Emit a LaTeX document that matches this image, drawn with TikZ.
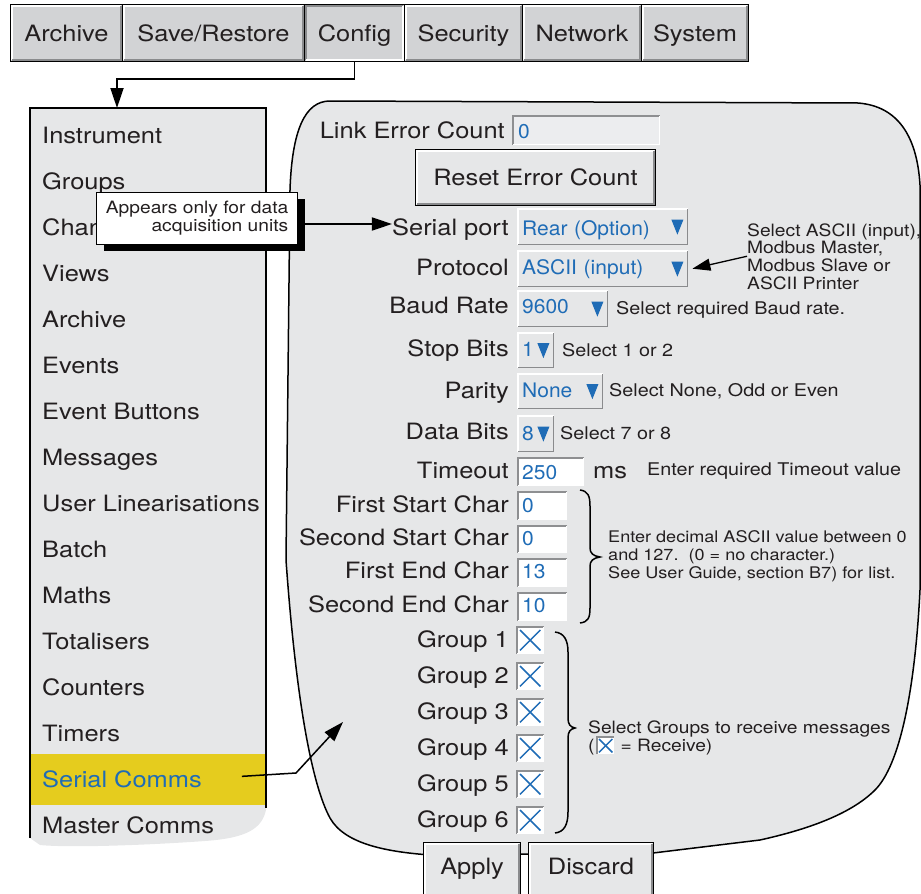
\documentclass[tikz,border=0pt]{standalone}
\usepackage{fontspec}
\setmainfont{TeX Gyre Heros}[FakeStretch=1.13]
\newfontfamily\valfont{TeX Gyre Heros}[FakeStretch=1.05]
\usetikzlibrary{arrows.meta,calc,shadows}

\definecolor{panel}{HTML}{E6E7E8}
\definecolor{tabfill}{HTML}{D2D3D5}
\definecolor{ink}{HTML}{231F20}
\definecolor{blu}{HTML}{1F6CB6}
\definecolor{hilite}{HTML}{E5CC1E}
\definecolor{dkedge}{HTML}{8A8B8D}
\definecolor{insetgray}{HTML}{8E8F91}
\definecolor{fieldfill}{HTML}{ECEDEF}

% 3D edge of a button: #1 node, #2 top/left colour, #3 bottom/right colour
\newcommand\uibevel[3]{%
  \draw[#2, line width=2pt] ($(#1.south west)+(2,-2)$) -- ($(#1.north west)+(2,2)$) -- ($(#1.north east)+(-2,2)$);
  \draw[#3, line width=2pt] ($(#1.north east)+(-2,2)$) -- ($(#1.south east)+(-2,-2)$) -- ($(#1.south west)+(2,-2)$);}
% thin edge of a field or drop-down box
\newcommand\uiedge[3]{%
  \draw[#2, line width=1.5pt] ($(#1.south west)+(0.75,-0.75)$) -- ($(#1.north west)+(0.75,0.75)$) -- ($(#1.north east)+(-0.75,0.75)$);
  \draw[#3, line width=1.5pt] ($(#1.north east)+(-0.75,0.75)$) -- ($(#1.south east)+(-0.75,-0.75)$) -- ($(#1.south west)+(0.75,-0.75)$);}
% drop-down marker at the right of a box
\newcommand\droparrow[1]{%
  \fill[blu] ($(#1.east)+(-17,-7)$) -- ++(12,0) -- ++(-6,15) -- cycle;}
% ticked check box
\newcommand\tickx[2]{%
  \draw[blu, line width=1.5pt] ($(#1.north west)+(#2,#2)$) -- ($(#1.south east)+(-#2,-#2)$);
  \draw[blu, line width=1.5pt] ($(#1.north east)+(-#2,#2)$) -- ($(#1.south west)+(#2,-#2)$);}

\tikzset{
  every node/.style={text=ink, inner sep=0pt},
  ui/.style={font=\fontsize{22.5}{27}\selectfont},
  lbl/.style={ui, anchor=base east},
  item/.style={ui, anchor=base west},
  note/.style={font=\fontsize{17.5}{17.8}\selectfont, anchor=base west},
  notebox/.style={anchor=north west, align=left},
  val/.style={font=\valfont\fontsize{20}{24}\selectfont, text=blu},
  tabbtn/.style={ui, draw=black, line width=1pt, fill=tabfill, anchor=north west,
    text height=37pt, text depth=20pt},
  pushbtn/.style={ui, draw=black, line width=1pt, fill=panel, anchor=north west},
  dropbox/.style={val, fill=panel, anchor=north west, inner xsep=5pt, align=left},
  entry/.style={val, fill=white, anchor=north west, inner xsep=5pt, align=left},
  cbox/.style={fill=white, anchor=north west, minimum width=28pt, minimum height=28pt},
  arr/.style={line width=1.8pt, -{Triangle[length=20pt,width=13pt]}},
}

\begin{document}
\begin{tikzpicture}[x=1pt, y=-1pt]
\useasboundingbox (0,0) rectangle (921,894);
\clip (0,0) rectangle (921,894);

% ---------- tab bar ----------
\node[tabbtn, minimum width=112pt] (tArchive) at (10,4) {Archive};
\node[tabbtn, minimum width=182pt] (tSave) at (122,4) {Save/Restore};
\node[tabbtn, minimum width=100pt] (cfg) at (304,4) {Config};
\node[tabbtn, minimum width=118pt] (tSec) at (404,4) {Security};
\node[tabbtn, minimum width=119pt] (tNet) at (522,4) {Network};
\node[tabbtn, minimum width=107pt] (tSys) at (641,4) {System};
\uibevel{tArchive}{white}{dkedge}
\uibevel{tSave}{white}{dkedge}
\uibevel{cfg}{dkedge}{white}
\uibevel{tSec}{white}{dkedge}
\uibevel{tNet}{white}{dkedge}
\uibevel{tSys}{white}{dkedge}

% ---------- configuration menu ----------
\fill[panel] (30,108) -- (266,108) -- (266,810) .. controls (262,828) and (248,838) .. (205,841)
  .. controls (150,845) and (70,848) .. (40,845) -- (30,838) -- cycle;
\fill[hilite] (30,754) rectangle (266,805);
\draw[line width=1.5pt] (30,838) -- (30,108) -- (266,108) -- (266,808);
\coordinate (menutop) at (117,108);

\node[item] (mInstr) at (42,143) {Instrument};
\node[item] (mGroups) at (42,189) {Groups};
\node[item] (mChan) at (42,235) {Channels};
\node[item] (mViews) at (42,281) {Views};
\node[item] (mArch) at (42,327) {Archive};
\node[item] (mEvents) at (42,373) {Events};
\node[item] (mEvBtn) at (42,419) {Event Buttons};
\node[item] (mMsg) at (42,465) {Messages};
\node[item] (mULin) at (42,511) {User Linearisations};
\node[item] (mBatch) at (42,557) {Batch};
\node[item] (mMaths) at (42,603) {Maths};
\node[item] (mTot) at (42,649) {Totalisers};
\node[item] (mCount) at (42,695) {Counters};
\node[item] (mTimers) at (42,741) {Timers};
\node[item, text=blu] (mSerial) at (42,787) {Serial Comms};
\node[item] (mMaster) at (42,833) {Master Comms};

% ---------- serial comms panel ----------
\filldraw[fill=panel, draw=black, line width=1.5pt]
  (330,101) -- (858,103) .. controls (897,106) and (917,135) .. (920,185) -- (920,590)
  .. controls (915,690) and (900,765) .. (875,790) .. controls (850,815) and (805,830) .. (760,840)
  -- (653,853) -- (430,855) .. controls (390,852) and (345,845) .. (330,818)
  .. controls (312,785) and (296,700) .. (286,560) -- (290,190)
  .. controls (292,130) and (305,101) .. (330,101) -- cycle;

% link error count
\node[lbl] (lLink) at (505,138) {Link Error Count};
\node[val, fill=fieldfill, anchor=north west, inner xsep=6pt, align=left, text width=136pt,
  text height=23pt, text depth=7pt] (fLink) at (512,115) {0};
\uiedge{fLink}{insetgray}{white}
\node[pushbtn, minimum width=240pt, text height=36pt, text depth=20pt] (bReset) at (415,149) {Reset Error Count};
\uibevel{bReset}{white}{dkedge}

% drop-down settings
\node[lbl] (lsp) at (509,235) {Serial port};
\node[dropbox, text width=161pt, text height=27pt, text depth=10pt] (ddsp) at (517,208) {Rear (Option)};
\node[lbl] (lpr) at (509,275) {Protocol};
\node[dropbox, text width=161pt, text height=24.5pt, text depth=12.5pt] (ddpr) at (517,250) {ASCII (input)};
\node[lbl] (lbr) at (509,313) {Baud Rate};
\node[dropbox, text width=81pt, text height=23pt, text depth=14pt] (ddbr) at (517,290) {9600};
\node[lbl] (lsb) at (509,356) {Stop Bits};
\node[dropbox, text width=27pt, text height=24pt, text depth=12pt] (ddsb) at (517,332) {1};
\node[lbl] (lpa) at (509,398) {Parity};
\node[dropbox, text width=76pt, text height=24pt, text depth=12pt] (ddpa) at (517,373) {None};
\node[lbl] (ldb) at (509,439) {Data Bits};
\node[dropbox, text width=27pt, text height=25pt, text depth=12pt] (dddb) at (517,415) {8};
\foreach \b in {ddsp,ddpr,ddbr,ddsb,ddpa,dddb}{\uiedge{\b}{white}{dkedge}\droparrow{\b}}

% entry fields
\node[lbl] (lto) at (509,478) {Timeout};
\node[entry, text width=57pt, text height=22pt, text depth=7pt] (fto) at (517,457) {250};
\node[ui, anchor=base west] (ms) at (593,478) {ms};
\node[lbl] (lfs) at (509,512) {First Start Char};
\node[entry, text width=40pt, text height=21pt, text depth=8pt] (ffs) at (517,491) {0};
\node[lbl] (lss) at (509,545) {Second Start Char};
\node[entry, text width=40pt, text height=20pt, text depth=8pt] (fss) at (517,525) {0};
\node[lbl] (lfe) at (509,578) {First End Char};
\node[entry, text width=40pt, text height=20pt, text depth=9pt] (ffe) at (517,558) {13};
\node[lbl] (lse) at (509,612) {Second End Char};
\node[entry, text width=40pt, text height=20pt, text depth=9pt] (fse) at (517,592) {10};
\foreach \b in {fto,ffs,fss,ffe,fse}{\uiedge{\b}{insetgray}{white}}

% group check boxes
\foreach \i in {1,...,6}{
  \node[lbl] (lg\i) at (509,{611+36*\i}) {Group \i};
  \node[cbox] (cb\i) at (516,{590+36*\i}) {};
  \uiedge{cb\i}{insetgray}{white}
  \tickx{cb\i}{4}
}

% notes
\node[notebox, font=\fontsize{17}{17.6}\selectfont] (nascii) at (747,223) {\rule{0pt}{13pt}Select ASCII (input),\\Modbus Master,\\Modbus Slave or\\ASCII Printer};
\node[note] (nbaud) at (616,314) {Select required Baud rate.};
\node[note] (nstop) at (562,356) {Select 1 or 2};
\node[note] (npar) at (609,396) {Select None, Odd or Even};
\node[note] (ndata) at (560,439) {Select 7 or 8};
\node[note] (ntime) at (647,475) {Enter required Timeout value};
\node[notebox, font=\fontsize{16}{17.8}\selectfont] (nchar) at (608,529.5) {\rule{0pt}{13pt}Enter decimal ASCII value between 0\\and 127.\ \ (0 = no character.)\\See User Guide, section B7) for list.};
\node[notebox, font=\fontsize{17}{18.5}\selectfont] (ngrp) at (588,720) {\rule{0pt}{13pt}Select Groups to receive messages\\(\hspace{26pt}= Receive)};
\node[cbox, minimum width=17pt, minimum height=17pt] (cbicon) at (597,737) {};
\draw[insetgray, line width=1.2pt] (cbicon.south west) -- (cbicon.north west) -- (cbicon.north east);
\tickx{cbicon}{2}

% braces
\draw[line width=1.5pt] (580,490) .. controls (588,491) and (590,496) .. (590,506) -- (590,548)
  .. controls (590,553) and (593,556) .. (600,557) .. controls (593,558) and (590,561) .. (590,566)
  -- (590,608) .. controls (590,618) and (588,622) .. (580,623);
\draw[line width=1.5pt] (555,632) .. controls (564,633) and (568,640) .. (568,652) -- (568,718)
  .. controls (568,724) and (570,727) .. (575,728) .. controls (570,729) and (568,732) .. (568,738)
  -- (568,812) .. controls (568,825) and (564,832) .. (555,833);

% apply / discard
\node[pushbtn, minimum width=97pt, text height=32pt, text depth=26pt] (bApply) at (423,842) {Apply};
\node[pushbtn, minimum width=125pt, text height=32pt, text depth=26pt] (bDiscard) at (528,842) {Discard};
\uibevel{bApply}{white}{dkedge}
\uibevel{bDiscard}{white}{dkedge}

% ---------- connectors ----------
\draw[arr] (cfg.south) -- ++(0,17) -| (menutop);
\coordinate (sparrow) at ($(lsp.base west)+(0,-11)$);
\node[draw=black, line width=1.2pt, fill=white, anchor=north west, minimum width=201pt, minimum height=52pt,
  align=right, font=\fontsize{17}{18}\selectfont,
  drop shadow={shadow xshift=7pt, shadow yshift=-6pt, fill=black, opacity=1}]
  (callout) at (96,192) {Appears only for data\\acquisition units};
\draw[arr] (callout.east |- sparrow) -- (sparrow);
\draw[line width=1.3pt, -{Triangle[length=18pt,width=12pt]}] (nascii.west) -- ($(ddpr.east)+(4,0)$);
\coordinate (scBend) at (296,773);
\coordinate (scTip) at (343,722);
\draw[line width=1.5pt, -{Triangle[length=20pt,width=13pt]}, shorten <=40pt] (mSerial.east) -- (scBend) -- (scTip);
\end{tikzpicture}
\end{document}
